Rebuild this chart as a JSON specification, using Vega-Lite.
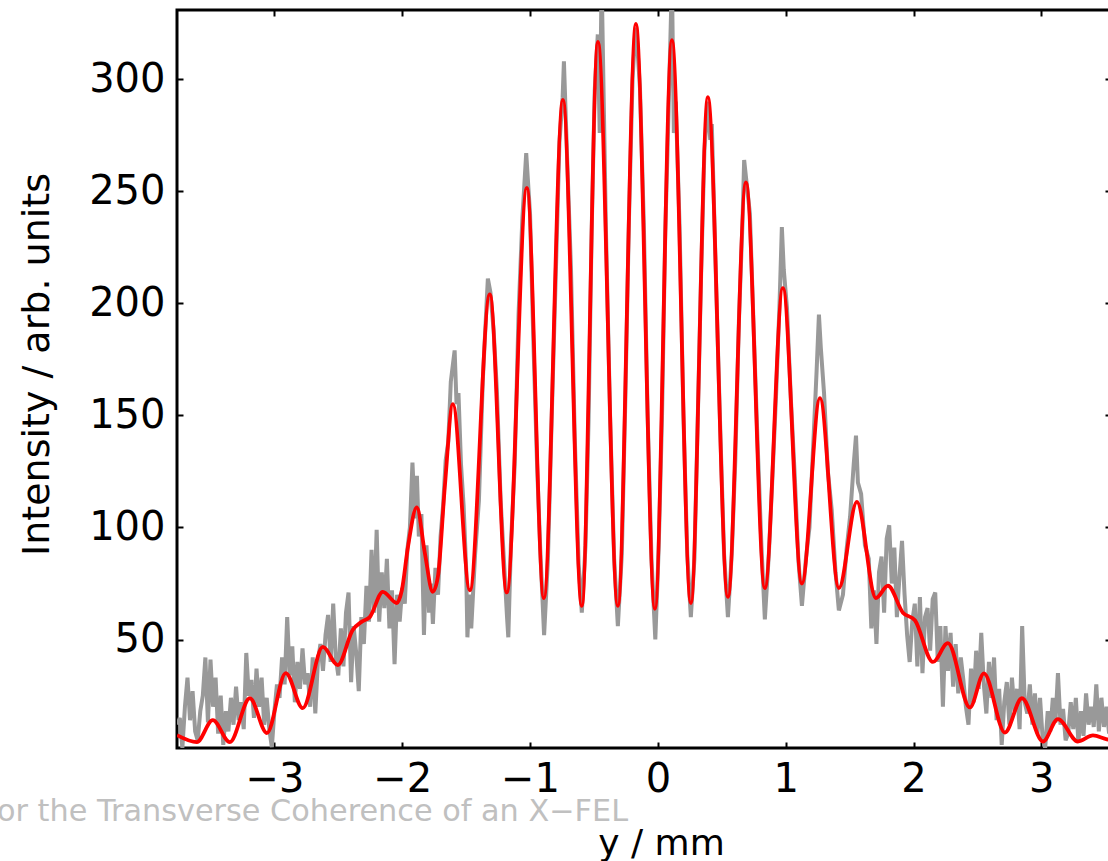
{
"$schema": "https://vega.github.io/schema/vega-lite/v6.json",
"width": 934, "height": 738,
"autosize": {"type": "none"},
"padding": {"left": 177, "top": 10, "right": 0, "bottom": 113},
"background": "white",
"config": {"view": {"stroke": "#000000", "strokeWidth": 3}, "axis": {"grid": false, "domain": false}},
"title": {"text": "or the Transverse Coherence of an X−FEL", "orient": "bottom", "anchor": "start", "frame": "group", "font": "DejaVu Sans", "fontSize": 30.3, "fontWeight": "normal", "color": "#c0c0c0", "dx": -180, "offset": -64},
"datasets": {
"raw": [
{"y_mm":-3.76,"intensity":12},{"y_mm":-3.74,"intensity":15},{"y_mm":-3.72,"intensity":1.6},{"y_mm":-3.70,"intensity":20},{"y_mm":-3.68,"intensity":33},{"y_mm":-3.66,"intensity":14},{"y_mm":-3.64,"intensity":27},{"y_mm":-3.62,"intensity":9},{"y_mm":-3.60,"intensity":5},{"y_mm":-3.58,"intensity":18},{"y_mm":-3.56,"intensity":25},{"y_mm":-3.54,"intensity":42},{"y_mm":-3.52,"intensity":13},{"y_mm":-3.50,"intensity":41},{"y_mm":-3.48,"intensity":20},{"y_mm":-3.46,"intensity":33},{"y_mm":-3.44,"intensity":8},{"y_mm":-3.42,"intensity":25},{"y_mm":-3.40,"intensity":3},{"y_mm":-3.38,"intensity":18},{"y_mm":-3.36,"intensity":9},{"y_mm":-3.34,"intensity":24},{"y_mm":-3.32,"intensity":12},{"y_mm":-3.30,"intensity":29},{"y_mm":-3.28,"intensity":14},{"y_mm":-3.26,"intensity":22},{"y_mm":-3.24,"intensity":10},{"y_mm":-3.22,"intensity":44},{"y_mm":-3.20,"intensity":25},{"y_mm":-3.18,"intensity":32},{"y_mm":-3.16,"intensity":15},{"y_mm":-3.14,"intensity":37},{"y_mm":-3.12,"intensity":20},{"y_mm":-3.10,"intensity":33},{"y_mm":-3.08,"intensity":12},{"y_mm":-3.06,"intensity":24},{"y_mm":-3.04,"intensity":10},{"y_mm":-3.02,"intensity":2},{"y_mm":-3.00,"intensity":18},{"y_mm":-2.98,"intensity":30},{"y_mm":-2.96,"intensity":24},{"y_mm":-2.94,"intensity":42},{"y_mm":-2.92,"intensity":30},{"y_mm":-2.90,"intensity":60},{"y_mm":-2.88,"intensity":34},{"y_mm":-2.86,"intensity":47},{"y_mm":-2.84,"intensity":22},{"y_mm":-2.82,"intensity":40},{"y_mm":-2.80,"intensity":28},{"y_mm":-2.78,"intensity":46},{"y_mm":-2.76,"intensity":30},{"y_mm":-2.74,"intensity":35},{"y_mm":-2.72,"intensity":20},{"y_mm":-2.70,"intensity":42},{"y_mm":-2.68,"intensity":17},{"y_mm":-2.66,"intensity":40},{"y_mm":-2.64,"intensity":48},{"y_mm":-2.62,"intensity":36},{"y_mm":-2.60,"intensity":52},{"y_mm":-2.58,"intensity":61},{"y_mm":-2.56,"intensity":40},{"y_mm":-2.54,"intensity":66},{"y_mm":-2.52,"intensity":42},{"y_mm":-2.50,"intensity":34},{"y_mm":-2.48,"intensity":55},{"y_mm":-2.46,"intensity":38},{"y_mm":-2.44,"intensity":62},{"y_mm":-2.42,"intensity":71},{"y_mm":-2.40,"intensity":31},{"y_mm":-2.38,"intensity":56},{"y_mm":-2.36,"intensity":44},{"y_mm":-2.34,"intensity":27},{"y_mm":-2.32,"intensity":60},{"y_mm":-2.30,"intensity":48},{"y_mm":-2.28,"intensity":74},{"y_mm":-2.26,"intensity":58},{"y_mm":-2.24,"intensity":90},{"y_mm":-2.22,"intensity":62},{"y_mm":-2.20,"intensity":99},{"y_mm":-2.18,"intensity":58},{"y_mm":-2.16,"intensity":80},{"y_mm":-2.14,"intensity":64},{"y_mm":-2.12,"intensity":86},{"y_mm":-2.10,"intensity":55},{"y_mm":-2.08,"intensity":72},{"y_mm":-2.06,"intensity":39},{"y_mm":-2.04,"intensity":70},{"y_mm":-2.02,"intensity":58},{"y_mm":-2.00,"intensity":73},{"y_mm":-1.98,"intensity":66},{"y_mm":-1.96,"intensity":90},
{"y_mm":-1.94,"intensity":100},{"y_mm":-1.92,"intensity":129},{"y_mm":-1.90,"intensity":104},{"y_mm":-1.885,"intensity":123},{"y_mm":-1.87,"intensity":96},{"y_mm":-1.85,"intensity":106},{"y_mm":-1.83,"intensity":52},{"y_mm":-1.81,"intensity":92},{"y_mm":-1.79,"intensity":62},{"y_mm":-1.775,"intensity":75},{"y_mm":-1.76,"intensity":57},{"y_mm":-1.74,"intensity":82},{"y_mm":-1.72,"intensity":70},{"y_mm":-1.70,"intensity":96},{"y_mm":-1.68,"intensity":110},{"y_mm":-1.66,"intensity":130},{"y_mm":-1.64,"intensity":138},{"y_mm":-1.62,"intensity":165},{"y_mm":-1.605,"intensity":172},{"y_mm":-1.59,"intensity":179},{"y_mm":-1.575,"intensity":155},{"y_mm":-1.56,"intensity":160},{"y_mm":-1.54,"intensity":128},{"y_mm":-1.52,"intensity":110},{"y_mm":-1.50,"intensity":82},{"y_mm":-1.49,"intensity":51},{"y_mm":-1.475,"intensity":70},{"y_mm":-1.46,"intensity":55},{"y_mm":-1.43,"intensity":88},{"y_mm":-1.40,"intensity":112},{"y_mm":-1.37,"intensity":165},{"y_mm":-1.34,"intensity":200},{"y_mm":-1.33,"intensity":211},{"y_mm":-1.31,"intensity":205},{"y_mm":-1.285,"intensity":188},{"y_mm":-1.26,"intensity":162},{"y_mm":-1.23,"intensity":112},{"y_mm":-1.205,"intensity":86},{"y_mm":-1.18,"intensity":60},{"y_mm":-1.17,"intensity":51},{"y_mm":-1.15,"intensity":92},{"y_mm":-1.12,"intensity":128},{"y_mm":-1.09,"intensity":195},{"y_mm":-1.06,"intensity":238},{"y_mm":-1.03,"intensity":267},{"y_mm":-1.00,"intensity":240},{"y_mm":-0.975,"intensity":185},{"y_mm":-0.945,"intensity":128},{"y_mm":-0.92,"intensity":90},{"y_mm":-0.89,"intensity":52},{"y_mm":-0.86,"intensity":86},{"y_mm":-0.83,"intensity":150},{"y_mm":-0.80,"intensity":210},{"y_mm":-0.77,"intensity":272},{"y_mm":-0.745,"intensity":292},{"y_mm":-0.735,"intensity":308},{"y_mm":-0.71,"intensity":265},{"y_mm":-0.68,"intensity":216},{"y_mm":-0.65,"intensity":140},{"y_mm":-0.62,"intensity":84},{"y_mm":-0.595,"intensity":62},{"y_mm":-0.566,"intensity":92},{"y_mm":-0.542,"intensity":148},{"y_mm":-0.518,"intensity":232},{"y_mm":-0.494,"intensity":295},{"y_mm":-0.47,"intensity":320},{"y_mm":-0.455,"intensity":276},{"y_mm":-0.44,"intensity":345},{"y_mm":-0.406,"intensity":232},{"y_mm":-0.374,"intensity":150},{"y_mm":-0.342,"intensity":86},{"y_mm":-0.313,"intensity":56},{"y_mm":-0.282,"intensity":88},{"y_mm":-0.254,"intensity":158},{"y_mm":-0.226,"intensity":238},{"y_mm":-0.198,"intensity":300},{"y_mm":-0.18,"intensity":318},{"y_mm":-0.17,"intensity":323},{"y_mm":-0.14,"intensity":296},{"y_mm":-0.11,"intensity":236},{"y_mm":-0.08,"intensity":150},{"y_mm":-0.05,"intensity":86},{"y_mm":-0.02,"intensity":50},{"y_mm":0.006,"intensity":90},{"y_mm":0.032,"intensity":148},{"y_mm":0.058,"intensity":232},{"y_mm":0.075,"intensity":267},{"y_mm":0.09,"intensity":300},{"y_mm":0.11,"intensity":345},{"y_mm":0.125,"intensity":276},{"y_mm":0.14,"intensity":290},{"y_mm":0.17,"intensity":234},{"y_mm":0.20,"intensity":150},{"y_mm":0.23,"intensity":88},{"y_mm":0.258,"intensity":60},{"y_mm":0.286,"intensity":86},{"y_mm":0.312,"intensity":148},{"y_mm":0.338,"intensity":212},{"y_mm":0.364,"intensity":268},{"y_mm":0.39,"intensity":290},{"y_mm":0.41,"intensity":273},{"y_mm":0.422,"intensity":280},{"y_mm":0.454,"intensity":212},{"y_mm":0.486,"intensity":148},{"y_mm":0.518,"intensity":88},{"y_mm":0.548,"intensity":60},{"y_mm":0.578,"intensity":88},{"y_mm":0.606,"intensity":130},{"y_mm":0.634,"intensity":192},{"y_mm":0.662,"intensity":236},{"y_mm":0.675,"intensity":264},{"y_mm":0.69,"intensity":256},{"y_mm":0.72,"intensity":240},{"y_mm":0.75,"intensity":188},{"y_mm":0.78,"intensity":138},{"y_mm":0.81,"intensity":92},{"y_mm":0.837,"intensity":59},{"y_mm":0.868,"intensity":88},{"y_mm":0.896,"intensity":122},{"y_mm":0.924,"intensity":158},{"y_mm":0.952,"intensity":200},{"y_mm":0.97,"intensity":234},{"y_mm":0.985,"intensity":215},{"y_mm":1.01,"intensity":198},{"y_mm":1.04,"intensity":158},{"y_mm":1.07,"intensity":124},{"y_mm":1.10,"intensity":85},{"y_mm":1.127,"intensity":65},{"y_mm":1.158,"intensity":86},{"y_mm":1.186,"intensity":100},{"y_mm":1.214,"intensity":135},{"y_mm":1.242,"intensity":170},{"y_mm":1.26,"intensity":195},{"y_mm":1.275,"intensity":180},{"y_mm":1.30,"intensity":160},{"y_mm":1.33,"intensity":125},{"y_mm":1.36,"intensity":108},{"y_mm":1.39,"intensity":80},{"y_mm":1.416,"intensity":63},{"y_mm":1.448,"intensity":70},{"y_mm":1.476,"intensity":90},{"y_mm":1.504,"intensity":105},{"y_mm":1.532,"intensity":128},{"y_mm":1.55,"intensity":141},{"y_mm":1.565,"intensity":120},{"y_mm":1.59,"intensity":115},{"y_mm":1.62,"intensity":92},{"y_mm":1.65,"intensity":86},{"y_mm":1.67,"intensity":55},{"y_mm":1.69,"intensity":72},{"y_mm":1.71,"intensity":48},{"y_mm":1.73,"intensity":80},{"y_mm":1.75,"intensity":87},{"y_mm":1.77,"intensity":62},{"y_mm":1.79,"intensity":95},{"y_mm":1.81,"intensity":101},{"y_mm":1.83,"intensity":75},{"y_mm":1.85,"intensity":91},{"y_mm":1.87,"intensity":60},{"y_mm":1.89,"intensity":78},{"y_mm":1.91,"intensity":94},{"y_mm":1.93,"intensity":70},{"y_mm":1.95,"intensity":52},
{"y_mm":1.97,"intensity":40},{"y_mm":1.99,"intensity":58},{"y_mm":2.01,"intensity":66},{"y_mm":2.03,"intensity":38},{"y_mm":2.05,"intensity":69},{"y_mm":2.07,"intensity":35},{"y_mm":2.09,"intensity":60},{"y_mm":2.11,"intensity":64},{"y_mm":2.13,"intensity":45},{"y_mm":2.15,"intensity":68},{"y_mm":2.17,"intensity":71},{"y_mm":2.19,"intensity":40},{"y_mm":2.21,"intensity":56},{"y_mm":2.23,"intensity":20},{"y_mm":2.25,"intensity":56},{"y_mm":2.27,"intensity":36},{"y_mm":2.29,"intensity":53},{"y_mm":2.31,"intensity":29},{"y_mm":2.33,"intensity":48},{"y_mm":2.35,"intensity":26},{"y_mm":2.37,"intensity":42},{"y_mm":2.39,"intensity":32},{"y_mm":2.41,"intensity":20},{"y_mm":2.43,"intensity":12},{"y_mm":2.45,"intensity":37},{"y_mm":2.47,"intensity":22},{"y_mm":2.49,"intensity":45},{"y_mm":2.51,"intensity":28},{"y_mm":2.53,"intensity":53},{"y_mm":2.55,"intensity":30},{"y_mm":2.57,"intensity":17},{"y_mm":2.59,"intensity":40},{"y_mm":2.61,"intensity":24},{"y_mm":2.63,"intensity":42},{"y_mm":2.65,"intensity":14},{"y_mm":2.67,"intensity":28},{"y_mm":2.69,"intensity":3},{"y_mm":2.71,"intensity":22},{"y_mm":2.73,"intensity":31},{"y_mm":2.75,"intensity":12},{"y_mm":2.77,"intensity":33},{"y_mm":2.79,"intensity":18},{"y_mm":2.81,"intensity":28},{"y_mm":2.83,"intensity":10},{"y_mm":2.85,"intensity":56},{"y_mm":2.87,"intensity":22},{"y_mm":2.89,"intensity":17},{"y_mm":2.91,"intensity":30},{"y_mm":2.93,"intensity":12},{"y_mm":2.95,"intensity":26},{"y_mm":2.97,"intensity":8},{"y_mm":2.99,"intensity":24},{"y_mm":3.01,"intensity":6},{"y_mm":3.03,"intensity":1.6},{"y_mm":3.05,"intensity":18},{"y_mm":3.07,"intensity":9},{"y_mm":3.09,"intensity":24},{"y_mm":3.11,"intensity":13},{"y_mm":3.13,"intensity":35},{"y_mm":3.15,"intensity":12},{"y_mm":3.17,"intensity":19},{"y_mm":3.19,"intensity":5},{"y_mm":3.21,"intensity":8},{"y_mm":3.23,"intensity":22},{"y_mm":3.25,"intensity":10},{"y_mm":3.27,"intensity":24},{"y_mm":3.29,"intensity":4},{"y_mm":3.31,"intensity":18},{"y_mm":3.33,"intensity":7},{"y_mm":3.35,"intensity":26},{"y_mm":3.37,"intensity":12},{"y_mm":3.39,"intensity":20},{"y_mm":3.41,"intensity":11},{"y_mm":3.43,"intensity":30},{"y_mm":3.45,"intensity":9},{"y_mm":3.47,"intensity":24},{"y_mm":3.49,"intensity":11},{"y_mm":3.51,"intensity":20},{"y_mm":3.53,"intensity":8},{"y_mm":3.545,"intensity":14}
],
"fit": [
{"y_mm":-3.762,"intensity":7.3},{"y_mm":-3.607,"intensity":4.2},{"y_mm":-3.482,"intensity":14},{"y_mm":-3.349,"intensity":4.2},{"y_mm":-3.192,"intensity":23.8},{"y_mm":-3.059,"intensity":8.3},{"y_mm":-2.911,"intensity":35},{"y_mm":-2.778,"intensity":19.4},{"y_mm":-2.621,"intensity":46.7},{"y_mm":-2.504,"intensity":38.6},{"y_mm":-2.387,"intensity":54.3},{"y_mm":-2.316,"intensity":58},{"y_mm":-2.254,"intensity":60},{"y_mm":-2.152,"intensity":71.3},{"y_mm":-2.042,"intensity":66.3},{"y_mm":-2.003,"intensity":72},{"y_mm":-1.956,"intensity":91},{"y_mm":-1.886,"intensity":109},{"y_mm":-1.823,"intensity":88.6},{"y_mm":-1.761,"intensity":71.3},{"y_mm":-1.721,"intensity":78},{"y_mm":-1.667,"intensity":118},{"y_mm":-1.604,"intensity":155},{"y_mm":-1.471,"intensity":72},{"y_mm":-1.315,"intensity":204},{"y_mm":-1.182,"intensity":71},{"y_mm":-1.025,"intensity":251.5},{"y_mm":-0.892,"intensity":68.5},{"y_mm":-0.743,"intensity":290.8},{"y_mm":-0.595,"intensity":65},{"y_mm":-0.469,"intensity":316.7},{"y_mm":-0.313,"intensity":65},{"y_mm":-0.172,"intensity":324.7},{"y_mm":-0.023,"intensity":63.7},{"y_mm":0.110,"intensity":317.5},{"y_mm":0.258,"intensity":66.3},{"y_mm":0.391,"intensity":292},{"y_mm":0.548,"intensity":69},{"y_mm":0.689,"intensity":254},{"y_mm":0.837,"intensity":73},{"y_mm":0.978,"intensity":206.8},{"y_mm":1.127,"intensity":75},{"y_mm":1.268,"intensity":157.7},{"y_mm":1.416,"intensity":73},{"y_mm":1.557,"intensity":111.4},{"y_mm":1.706,"intensity":68.5},{"y_mm":1.800,"intensity":74},{"y_mm":1.917,"intensity":62},{"y_mm":2.011,"intensity":58.6},{"y_mm":2.152,"intensity":40},{"y_mm":2.269,"intensity":48.4},{"y_mm":2.441,"intensity":19.7},{"y_mm":2.551,"intensity":34.9},{"y_mm":2.715,"intensity":8.5},{"y_mm":2.848,"intensity":23.8},{"y_mm":3.013,"intensity":4.5},{"y_mm":3.130,"intensity":14.5},{"y_mm":3.286,"intensity":4.5},{"y_mm":3.404,"intensity":7.2},{"y_mm":3.513,"intensity":5.5},{"y_mm":3.545,"intensity":5.2}
]
},
"layer": [
{"data": {"name": "raw"},
 "mark": {"type": "line", "color": "#999999", "strokeWidth": 4, "clip": true},
 "encoding": {
  "x": {"field": "y_mm", "type": "quantitative", "scale": {"domain": [-3.762, 3.545], "nice": false, "zero": false},
        "axis": {"orient": "bottom", "values": [-3,-2,-1,0,1,2,3], "tickSize": -6, "tickWidth": 2, "tickColor": "#000000", "labelFont": "DejaVu Sans", "labelFontSize": 40, "labelColor": "#000000", "labelPadding": 17, "labelFlush": false, "labelOverlap": false, "title": "y / mm", "titleFont": "DejaVu Sans", "titleFontSize": 36, "titleFontWeight": "normal", "titleColor": "#000000", "titleX": 484, "titleY": 106, "titleAlign": "center", "titleBaseline": "alphabetic"}},
  "y": {"field": "intensity", "type": "quantitative", "scale": {"domain": [1.6, 330.9], "nice": false, "zero": false},
        "axis": {"orient": "left", "values": [50,100,150,200,250,300], "tickSize": -6, "tickWidth": 2, "tickColor": "#000000", "labelFont": "DejaVu Sans", "labelFontSize": 40, "labelColor": "#000000", "labelPadding": 18, "labelFlush": false, "labelOverlap": false, "title": "Intensity / arb. units", "titleFont": "DejaVu Sans", "titleFontSize": 38, "titleFontWeight": "normal", "titleColor": "#000000", "titleAngle": -90, "titleX": -129, "titleY": 354, "titleAlign": "center", "titleBaseline": "alphabetic"}}
 }},
{"data": {"name": "fit"},
 "mark": {"type": "line", "color": "#ff0000", "strokeWidth": 3.8, "clip": true, "interpolate": "monotone", "strokeJoin": "round"},
 "encoding": {
  "x": {"field": "y_mm", "type": "quantitative", "scale": {"domain": [-3.762, 3.545], "nice": false, "zero": false},
        "axis": {"orient": "top", "values": [-3,-2,-1,0,1,2,3], "tickSize": -6, "tickWidth": 2, "tickColor": "#000000", "labels": false, "title": null}},
  "y": {"field": "intensity", "type": "quantitative", "scale": {"domain": [1.6, 330.9], "nice": false, "zero": false},
        "axis": {"orient": "right", "values": [50,100,150,200,250,300], "tickSize": -6, "tickWidth": 2, "tickColor": "#000000", "labels": false, "title": null}}
 }}
],
"resolve": {"axis": {"x": "independent", "y": "independent"}}
}
